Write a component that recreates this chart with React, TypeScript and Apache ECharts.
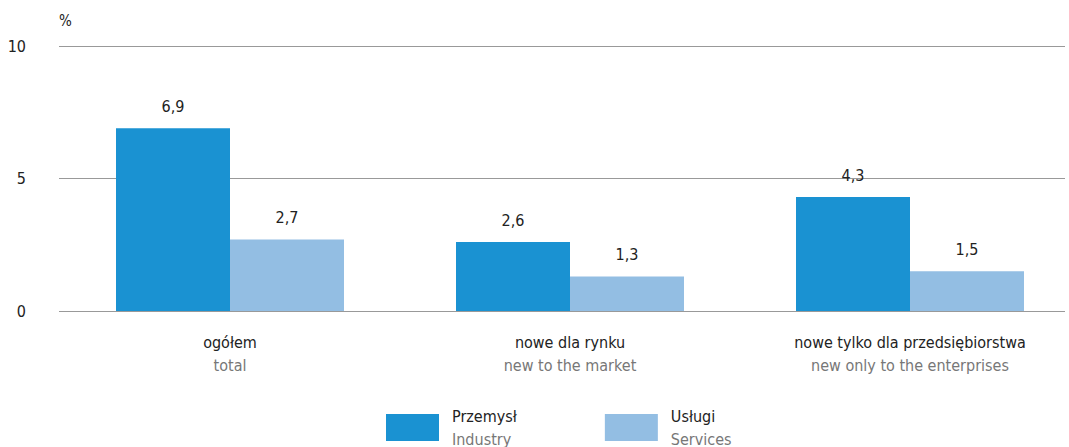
import React, { useEffect, useRef } from "react";
import * as echarts from "echarts";

const categoriesPl = ["ogółem", "nowe dla rynku", "nowe tylko dla przedsiębiorstwa"];
const categoriesEn = ["total", "new to the market", "new only to the enterprises"];
const industry = [6.9, 2.6, 4.3];
const services = [2.7, 1.3, 1.5];
const seriesNamesPl = ["Przemysł", "Usługi"];
const seriesNamesEn = ["Industry", "Services"];

const FONT = "'Liberation Sans Narrow', 'DejaVu Sans Condensed', 'Roboto Condensed', sans-serif";

export default function App() {
  const ref = useRef<HTMLDivElement>(null);
  useEffect(() => {
    document.body.style.margin = "0";
    const chart = echarts.init(ref.current!, null, { renderer: "svg" });
    const fmtNum = (v: number) => v.toFixed(1).replace(".", ",");
    const label = {
      show: true,
      position: "top" as const,
      distance: 14,
      color: "#222",
      fontFamily: FONT,
      fontSize: 16,
      formatter: (p: any) => fmtNum(p.value),
    };
    chart.setOption({
      animation: false,
      textStyle: { fontFamily: FONT },
      grid: [
        { left: 59, right: 4, top: 46, bottom: 136, outerBoundsMode: "none", containLabel: false },
        { left: 60, width: 1020, top: 46, bottom: 136, outerBoundsMode: "none", containLabel: false },
      ],
      legend: {
        top: 408,
        left: 386,
        padding: 0,
        itemWidth: 53,
        itemHeight: 27,
        itemGap: 88,
        icon: "rect",
        data: seriesNamesPl,
        formatter: (name: string) => {
          const i = seriesNamesPl.indexOf(name);
          return `{a|${name}}\n{b|${seriesNamesEn[i]}}`;
        },
        textStyle: {
          fontFamily: FONT,
          padding: [0, 0, 0, 8],
          rich: {
            a: { fontSize: 16, color: "#222", fontFamily: FONT, lineHeight: 23 },
            b: { fontSize: 16, color: "#777", fontFamily: FONT, lineHeight: 23 },
          },
        },
      },
      xAxis: [
        {
          type: "category",
          gridIndex: 0,
          data: categoriesPl,
          show: false,
        },
        {
          type: "category",
          gridIndex: 1,
          data: categoriesPl,
          axisLine: { show: false },
          axisTick: { show: false },
          axisLabel: {
            margin: 20,
            interval: 0,
            formatter: (v: string) => {
              const i = categoriesPl.indexOf(v);
              return `{a|${v}}\n{b|${categoriesEn[i]}}`;
            },
            rich: {
              a: { fontSize: 16, color: "#222", fontFamily: FONT, lineHeight: 23 },
              b: { fontSize: 16, color: "#777", fontFamily: FONT, lineHeight: 23 },
            },
          },
        },
      ],
      yAxis: [
        {
          type: "value",
          gridIndex: 0,
          min: 0,
          max: 10,
          interval: 5,
          name: "%",
          nameLocation: "end",
          nameGap: 18,
          nameTextStyle: { align: "left", color: "#222", fontSize: 15, fontFamily: FONT },
          axisLine: { show: false },
          axisTick: { show: false },
          axisLabel: { color: "#222", fontSize: 16, fontFamily: FONT, margin: 33 },
          splitLine: { lineStyle: { color: "#999", width: 1.2 } },
        },
        {
          type: "value",
          gridIndex: 1,
          min: 0,
          max: 10,
          interval: 5,
          show: false,
          splitLine: { show: false },
        },
      ],
      series: [
        {
          name: seriesNamesPl[0],
          type: "bar",
          xAxisIndex: 1,
          yAxisIndex: 1,
          data: industry,
          barWidth: 114,
          barGap: "0%",
          itemStyle: { color: "#1a92d2" },
          label,
        },
        {
          name: seriesNamesPl[1],
          type: "bar",
          xAxisIndex: 1,
          yAxisIndex: 1,
          data: services,
          barWidth: 114,
          barGap: "0%",
          itemStyle: { color: "#93bee3" },
          label,
        },
      ],
    });
    return () => chart.dispose();
  }, []);
  return <div ref={ref} style={{ width: 1069, height: 447 }} />;
}
